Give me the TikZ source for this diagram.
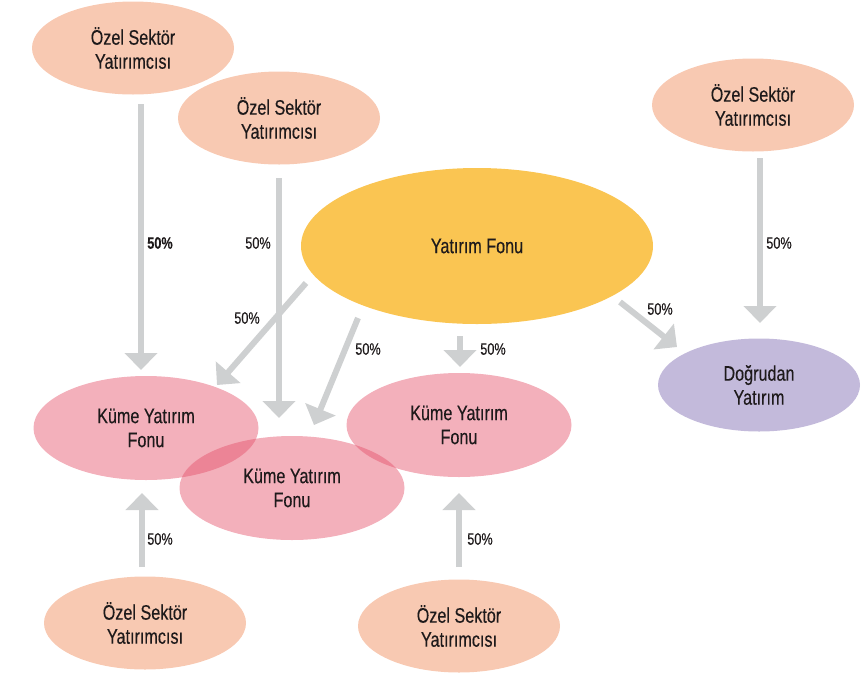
\documentclass[tikz,border=0pt]{standalone}
\usepackage{fontspec}
\setmainfont{Liberation Sans}[FakeStretch=0.77,FakeBold=0.3]
\usetikzlibrary{shapes.geometric,arrows.meta}
\definecolor{peach}{RGB}{248,201,178}
\definecolor{gold}{RGB}{250,197,82}
\definecolor{lilac}{RGB}{195,186,219}
\definecolor{rose}{RGB}{228,79,104}
\definecolor{arrowgray}{RGB}{206,208,209}
\definecolor{ink}{RGB}{30,26,27}
\tikzset{
  blob/.style={ellipse, inner sep=0pt, align=center, text=ink,
    font=\fontsize{21}{24}\selectfont},
  investor/.style={blob, fill=peach, minimum width=202pt, minimum height=93pt},
  fund/.style={blob, fill=gold, minimum width=352pt, minimum height=156pt},
  direct/.style={blob, fill=lilac, minimum width=202pt, minimum height=93pt},
  cluster/.style={blob, fill=rose, fill opacity=0.45, text opacity=1, minimum width=225pt, minimum height=104pt},
  flow/.style={draw=arrowgray, line width=6pt, -{Triangle[width=32pt,length=17pt]}},
  pct/.style={text=ink, font=\fontsize{16.5}{18}\selectfont, inner sep=0pt}
}
\begin{document}
\begin{tikzpicture}[x=1pt,y=-1pt]
\useasboundingbox (0,0) rectangle (865,673);
% nodes
\node[investor] (oz1) at (133,48) {Özel Sektör\\Yatırımcısı};
\node[investor] (oz2) at (279,118) {Özel Sektör\\Yatırımcısı};
\node[investor] (oz3) at (753,105) {Özel Sektör\\Yatırımcısı};
\node[fund] (yf) at (477,246) {Yatırım Fonu};
\node[direct] (dy) at (759,385) {Doğrudan\\Yatırım};
\node[cluster] (k1) at (146,428) {Küme Yatırım\\Fonu};
\node[cluster] (k2) at (292,488) {Küme Yatırım\\Fonu};
\node[cluster] (k3) at (459,425) {Küme Yatırım\\Fonu};
\node[investor] (oz4) at (145,623) {Özel Sektör\\Yatırımcısı};
\node[investor] (oz5) at (459,626) {Özel Sektör\\Yatırımcısı};
% arrow end points
\coordinate (a1s) at (141,104); \coordinate (a1e) at (141,370);
\coordinate (a2s) at (279,178); \coordinate (a2e) at (279,418);
\coordinate (a3s) at (306,283); \coordinate (a3e) at (217,385);
\coordinate (a4s) at (358,318); \coordinate (a4e) at (314,425);
\coordinate (a5s) at (460,336); \coordinate (a5e) at (460,367);
\coordinate (a6s) at (620,302); \coordinate (a6e) at (677,347);
\coordinate (a7s) at (760,158); \coordinate (a7e) at (760,323);
\coordinate (a8s) at (142,567); \coordinate (a8e) at (142,493);
\coordinate (a9s) at (459,567); \coordinate (a9e) at (459,493);
% arrows
\draw[flow] (a1s) -- (a1e);
\draw[flow] (a2s) -- (a2e);
\draw[flow] (a3s) -- (a3e);
\draw[flow] (a4s) -- (a4e);
\draw[flow] (a5s) -- (a5e);
\draw[flow] (a6s) -- (a6e);
\draw[flow] (a7s) -- (a7e);
\draw[flow] (a8s) -- (a8e);
\draw[flow] (a9s) -- (a9e);
% labels
\node[pct, font=\fontsize{16.5}{18}\selectfont\bfseries] (p1) at (160,243) {50\%};
\node[pct] (p2) at (258,243) {50\%};
\node[pct] (p3) at (247,318) {50\%};
\node[pct] (p4) at (368,349) {50\%};
\node[pct] (p5) at (493,349) {50\%};
\node[pct] (p6) at (660,309) {50\%};
\node[pct] (p7) at (779,243) {50\%};
\node[pct] (p8) at (160,539) {50\%};
\node[pct] (p9) at (480,539) {50\%};
\end{tikzpicture}
\end{document}
